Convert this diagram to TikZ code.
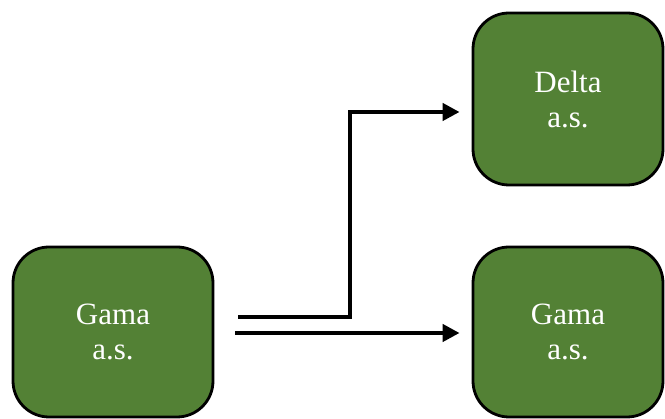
\documentclass[tikz,border=0pt]{standalone}
\usepackage{fontspec}
\setmainfont{Liberation Serif}
\usetikzlibrary{arrows.meta}
\definecolor{boxgreen}{HTML}{538135}
\tikzset{
  unit/.style={draw=black, line width=2.8pt, fill=boxgreen, rounded corners=36pt,
    text=white, align=center, font=\fontsize{31}{35}\selectfont,
    minimum width=#1, minimum height=170pt, inner sep=0pt},
  link/.style={line width=4.2pt, -{Triangle[length=17pt,width=17pt]}, shorten >=12pt},
  bar/.style={line width=4.2pt}
}
\begin{document}
\begin{tikzpicture}[x=1pt,y=1pt]
  \useasboundingbox (0,0) rectangle (665,419);
  % companies
  \node[unit=200pt] (gl) at (113,87) {Gama\\a.s.};
  \node[unit=190pt, minimum height=172pt] (dl) at (568,320) {Delta\\a.s.};
  \node[unit=190pt] (gr) at (568,87) {Gama\\a.s.};
  % transfer lines
  \coordinate (s1) at (238,102);
  \coordinate (k1) at (350,102);
  \coordinate (s2) at (235,86);
  \draw[link] (s1) -- (k1) |- ([yshift=-13pt]dl.west);
  \draw[link] (s2) -- (s2 -| gr.west);
\end{tikzpicture}
\end{document}
